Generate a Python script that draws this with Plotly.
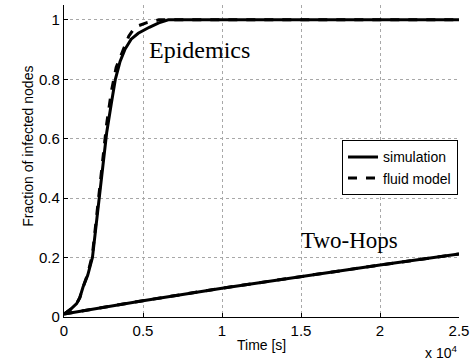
import plotly.graph_objects as go

# Epidemics
epi_sim_t = [0, 400, 800, 1000, 1200, 1500, 1800, 2100, 2400, 2700, 3000, 3250, 3550, 3850, 4250, 4700, 5400, 6000, 6600, 25000]
epi_sim_y = [0.01, 0.025, 0.045, 0.065, 0.1, 0.14, 0.2, 0.34, 0.5, 0.62, 0.72, 0.8, 0.86, 0.9, 0.935, 0.955, 0.975, 0.99, 1.0, 1.0]
epi_fluid_t = [0, 400, 800, 1000, 1200, 1500, 1800, 2100, 2400, 2700, 3000, 3300, 3600, 3850, 4100, 4500, 5200, 6000, 25000]
epi_fluid_y = [0.01, 0.025, 0.045, 0.065, 0.1, 0.145, 0.21, 0.36, 0.52, 0.65, 0.76, 0.84, 0.88, 0.91, 0.945, 0.976, 0.99, 1.0, 1.0]

# Two-Hops
two_t = [0, 5000, 10000, 15000, 20000, 25000]
two_sim_y = [0.01, 0.055, 0.097, 0.137, 0.175, 0.212]
two_fluid_y = [0.01, 0.055, 0.097, 0.137, 0.175, 0.212]

x_tickvals = [0, 5000, 10000, 15000, 20000, 25000]
x_ticktext = ["0", "0.5", "1", "1.5", "2", "2.5"]
y_tickvals = [0, 0.2, 0.4, 0.6, 0.8, 1.0]
y_ticktext = ["0", "0.2", "0.4", "0.6", "0.8", "1"]

SANS = "Liberation Sans, Arial, Helvetica, sans-serif"
SERIF = "Liberation Serif, Times New Roman, serif"

fig = go.Figure()
fig.add_trace(go.Scatter(x=epi_sim_t, y=epi_sim_y, mode="lines", name="simulation",
                         line=dict(color="black", width=3)))
fig.add_trace(go.Scatter(x=epi_fluid_t, y=epi_fluid_y, mode="lines", name="fluid model",
                         line=dict(color="black", width=3, dash="dash")))
fig.add_trace(go.Scatter(x=two_t, y=two_sim_y, mode="lines", showlegend=False,
                         line=dict(color="black", width=3)))
fig.add_trace(go.Scatter(x=two_t, y=two_fluid_y, mode="lines", showlegend=False,
                         line=dict(color="black", width=3, dash="dash")))

fig.update_layout(
    width=473, height=362,
    margin=dict(l=64, r=14, t=5, b=45),
    paper_bgcolor="white", plot_bgcolor="white",
    font=dict(family=SANS, color="black", size=14),
    legend=dict(x=0.997, y=0.567, xanchor="right", yanchor="top",
                bordercolor="black", borderwidth=1.2, bgcolor="white",
                font=dict(size=14, family=SANS), tracegroupgap=0, itemwidth=30),
    xaxis=dict(range=[0, 25000], tickvals=x_tickvals, ticktext=x_ticktext,
               ticks="inside", ticklen=4, tickcolor="black",
               showline=True, linecolor="black", linewidth=1.2,
               showgrid=True, gridcolor="#a8a8a8", griddash="dot", gridwidth=1,
               zeroline=False, tickfont=dict(size=15, family=SANS)),
    yaxis=dict(range=[0, 1.05], tickvals=y_tickvals, ticktext=y_ticktext,
               ticks="inside", ticklen=4, tickcolor="black",
               showline=True, linecolor="black", linewidth=1.2,
               showgrid=True, gridcolor="#a8a8a8", griddash="dot", gridwidth=1,
               zeroline=False, tickfont=dict(size=15, family=SANS)),
)

fig.add_annotation(x=-0.092, y=0.548, xref="paper", yref="paper", text="Fraction of infected nodes",
                   textangle=-90, showarrow=False, font=dict(size=14, family=SANS),
                   xanchor="center", yanchor="middle")
fig.add_annotation(x=0.5, y=-0.09, xref="paper", yref="paper", text="Time [s]",
                   showarrow=False, font=dict(size=14, family=SANS), yanchor="middle")
fig.add_annotation(x=1.0, y=-0.113, xref="paper", yref="paper", text="x 10<sup>4</sup>",
                   showarrow=False, font=dict(size=14, family=SANS), xanchor="right", yanchor="middle")
fig.add_annotation(x=8544, y=0.9, xref="x", yref="y", text="Epidemics", xanchor="center",
                   showarrow=False, font=dict(size=24, family=SERIF))
fig.add_annotation(x=18100, y=0.256, xref="x", yref="y", text="Two-Hops", xanchor="center",
                   showarrow=False, font=dict(size=23, family=SERIF))

fig.write_html("out.html")
